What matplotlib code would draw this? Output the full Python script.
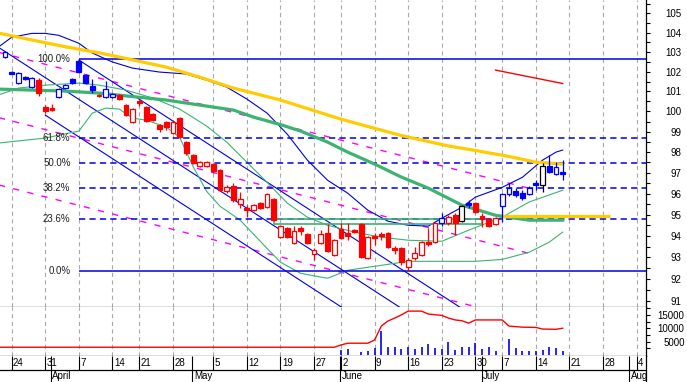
import numpy as np
import matplotlib.pyplot as plt
from matplotlib.patches import Rectangle
from matplotlib.ticker import FixedLocator, FuncFormatter, NullFormatter

plt.rcParams['font.family'] = ['Liberation Sans', 'DejaVu Sans']
plt.rcParams['lines.scale_dashes'] = False

# =============================
# DATA  (x = trading day index, 24 Mar 2014 = 0)
# =============================
idx = list(range(-1, 83))

opens = [102.74, 101.98, 101.42, 101.72, 101.22, 101.57, 100.22, 100.17, 100.72, 101.17,
         101.62, 102.54, 101.82, 101.27, 100.82, 100.72, 100.72, 100.82, 100.32, 99.47,
         100.52, 100.22, 99.87, 99.33, 99.47, 98.93, 99.67, 98.49, 97.86, 97.32,
         97.32, 97.42, 97.12, 96.11, 96.35, 95.50, 95.31, 95.21, 95.55, 95.35,
         95.74, 93.94, 94.36, 93.66, 94.36, 94.08, 93.15, 93.66, 94.13, 93.10,
         94.32, 94.13, 94.27, 94.55, 92.96, 93.99, 94.08, 94.13, 93.42, 93.42,
         92.55, 92.96, 93.10, 93.71, 93.71, 94.60, 94.60, 94.97, 94.69, 95.55,
         95.55, 94.93, 94.79, 94.55, 95.40, 95.97, 96.11, 96.02, 95.97, 96.50,
         96.40, 97.32, 96.93, 97.03]
highs = [103.05, 102.03, 101.98, 101.77, 101.72, 101.67, 100.32, 100.37, 101.17, 101.37,
         101.67, 102.63, 101.88, 101.62, 100.85, 101.52, 100.92, 100.87, 100.37, 100.17,
         100.57, 100.27, 99.92, 99.38, 99.52, 99.52, 99.72, 98.54, 97.91, 97.56,
         97.56, 97.47, 97.17, 96.40, 96.50, 96.06, 95.45, 95.50, 95.60, 96.02,
         95.78, 94.50, 94.41, 94.46, 94.46, 94.13, 93.42, 94.27, 94.55, 93.85,
         94.60, 94.60, 94.32, 94.60, 93.99, 94.13, 94.18, 94.18, 93.52, 93.47,
         92.96, 93.47, 93.75, 94.36, 94.65, 95.07, 94.97, 95.07, 95.45, 95.69,
         95.60, 95.07, 94.83, 94.88, 96.02, 96.50, 96.26, 96.16, 96.35, 96.64,
         97.47, 97.86, 97.51, 97.61]
lows = [102.69, 101.88, 101.37, 101.57, 101.17, 100.77, 99.92, 100.02, 100.67, 101.12,
        101.37, 101.93, 101.37, 100.92, 100.72, 100.67, 100.67, 100.57, 99.77, 99.42,
        100.27, 99.47, 99.52, 98.98, 99.08, 98.88, 98.69, 97.86, 97.42, 97.27,
        97.27, 96.98, 96.11, 96.02, 95.60, 95.31, 94.88, 95.16, 95.26, 95.31,
        94.69, 93.89, 93.89, 93.61, 94.03, 93.61, 92.87, 93.61, 93.24, 93.05,
        93.85, 93.80, 94.13, 92.96, 92.91, 93.56, 93.80, 93.42, 93.15, 92.64,
        92.36, 92.87, 93.05, 93.52, 93.66, 94.46, 94.50, 94.03, 94.65, 95.31,
        95.07, 94.41, 94.41, 94.50, 94.65, 95.88, 95.83, 95.69, 95.92, 96.16,
        96.06, 96.98, 96.88, 96.64]
closes = [103.00, 101.90, 101.93, 101.62, 101.67, 100.92, 100.02, 100.07, 101.12, 101.32,
          101.42, 101.98, 101.42, 101.07, 100.75, 101.12, 100.87, 100.62, 99.82, 100.12,
          100.42, 99.52, 99.57, 99.13, 99.23, 99.47, 98.74, 97.96, 97.47, 97.51,
          97.51, 97.07, 96.16, 96.30, 95.69, 95.74, 95.21, 95.45, 95.31, 95.97,
          94.74, 94.46, 93.94, 94.22, 94.22, 93.66, 93.33, 94.08, 93.28, 93.80,
          93.89, 93.99, 94.18, 93.01, 93.94, 93.89, 93.99, 93.47, 93.33, 92.78,
          92.87, 93.19, 93.71, 93.64, 94.60, 94.83, 94.88, 94.60, 95.40, 95.45,
          95.12, 94.79, 94.46, 94.83, 95.97, 96.26, 95.92, 95.78, 96.26, 96.40,
          97.32, 97.03, 97.27, 96.93]
candle_col = ("bbbbbrrrbbbbbbrbb"
              "rrrrrrrrrrrrrrrrrrrrrrrrrrrrrrrrrrrrrrrrrrrrrrrr"
              "brrkbrrrrbbbbbbkbbb")

# moving averages / bands, read at a few days
ma_long_x = [-2, 3, 8, 13, 18, 23, 28, 33, 40, 49, 58, 65, 69, 74, 78, 82]
ma_long = [103.98, 103.62, 103.27, 102.96, 102.60, 102.23, 101.72, 101.17, 100.57, 99.62,
           98.81, 98.30, 98.08, 97.79, 97.51, 97.42]
ma_mid_x = [-2, 8, 13, 23, 33, 36, 40, 43, 47, 50, 54, 58, 62, 67, 72, 77, 82]
ma_mid = [101.12, 101.02, 100.92, 100.57, 100.07, 99.72, 99.35, 99.03, 98.49, 98.00,
          97.42, 96.79, 96.26, 95.45, 94.97, 94.74, 94.74]
band_x = [-2, 0, 3, 5, 7, 10, 12, 15, 18, 22, 26, 29, 32, 35, 38, 41, 44, 47, 50, 53,
          56, 59, 62, 64, 67, 69, 73, 76, 79, 81, 82]
band = [103.25, 103.76, 103.96, 103.96, 103.86, 103.45, 102.95, 102.49, 102.18, 101.98,
        101.88, 101.57, 101.22, 100.62, 99.92, 98.88, 97.61, 96.64, 96.02, 95.21,
        94.69, 94.50, 94.46, 94.83, 95.35, 95.83, 96.30, 96.78, 97.61, 98.00, 98.10]
env_up_x = [-2, 1, 5, 10, 13, 17, 21, 25, 29, 32, 35, 38, 41, 44, 47, 51, 55, 59, 64, 68,
            73, 77, 82]
env_up = [100.82, 101.17, 101.32, 101.42, 101.32, 101.07, 100.67, 100.12, 99.28, 98.49,
          97.51, 96.54, 95.55, 94.88, 94.50, 94.18, 93.94, 93.80, 93.75, 94.27,
          94.88, 95.60, 96.16]
env_dn_x = [-2, 5, 10, 12, 14, 16, 18, 20, 23, 25, 27, 29, 31, 34, 38, 40, 43, 47, 50, 54,
            59, 64, 69, 73, 77, 80, 82]
env_dn = [98.44, 98.69, 99.03, 99.92, 100.17, 100.12, 99.67, 99.57, 99.23, 98.72,
          97.30, 96.11, 95.40, 94.74, 93.42, 92.78, 92.27, 92.04, 92.41, 92.59,
          92.82, 92.82, 92.82, 92.91, 93.24, 93.71, 94.18]

# drawn trend lines (start/end day, start/end price)
chan_lines = [((-2, 72), (103.25, 87.97)),
              ((5, 60), (99.82, 88.61)),
              ((10, 80), (102.59, 88.15))]
dash_lines = [((-2, 78), (102.99, 96.17)),
              ((-2, 78), (99.70, 93.11)),
              ((-2, 78), (96.42, 90.06))]
red_line = ((72, 82), (102.08, 101.40))
level_line = ((73, 89), 94.93)
zone = ((39, 70), (94.54, 94.78))
fib_days = (10, 59)          # swing high day, swing low day
fib_levels = [0.236, 0.382, 0.5, 0.618]

# volume
vol_idx = list(range(49, 83))
vol = [1870, 2240, 0, 1230, 1600, 2720, 8950, 3100, 3100, 2240, 3100, 2240, 3100, 3990,
       2720, 2240, 4960, 1870, 2870, 3100, 4360, 2240, 3100, 1600, 0, 5970, 2500, 1600,
       1600, 1600, 1870, 3100, 2720, 1600]
vavg_x = [-2, 48, 49, 50, 53, 54, 55, 56, 57, 58, 59, 61, 62, 64, 65, 66, 67, 68, 69, 73,
          74, 76, 78, 79, 81, 82]
vavg = [2900, 2900, 3740, 4400, 4400, 5600, 10800, 12700, 13800, 15000, 16400, 16400,
        15300, 14800, 13800, 13100, 12800, 11900, 13100, 13100, 10800, 10400, 10300,
        9700, 9600, 10000]

# date axis
week_idx = [0, 5, 10, 15, 19, 24, 30, 35, 40, 45, 49, 54, 59, 64, 69, 73, 78, 83, 88, 93]
week_lbl = ['24', '31', '7', '14', '21', '28', '5', '12', '19', '27', '2', '9', '16', '23',
            '30', '7', '14', '21', '28', '4']
month_idx = [5.8, 26.9, 48.9, 69.95, 91.9]
month_lbl = ['April', 'May', 'June', 'July', 'Aug']

# =============================
# FIGURE
# =============================
W, H = 687, 382
fig = plt.figure(figsize=(W / 100, H / 100), dpi=100)
xr = 645.7 / W
ax = fig.add_axes([0, 1 - 306.7 / H, xr, 306.7 / H])
axv = fig.add_axes([0, 1 - 356 / H, xr, (356 - 306.7) / H], sharex=ax)
axd = fig.add_axes([0, 0, xr, 26 / H], sharex=ax)

XMIN, XMAX = -1.74, 94.35
ax.set_xlim(XMIN, XMAX)

BLUE = '#0000ff'
RED = '#ff0000'
GREEN = '#3cb371'
GOLD = '#ffcc00'
MAG = '#ff00ff'
GRID = '#a8a8a8'
cmap = {'b': BLUE, 'r': RED, 'k': 'black'}

# ---- main price panel
ax.set_yscale('log')
ax.set_ylim(90.75, 105.70)

for a in (ax, axv):
    for i in week_idx:
        a.axvline(i, color=GRID, lw=0.8, ls=(0, (3, 2.5)), zorder=0)

for (x0, x1), (p0, p1) in dash_lines:
    ax.plot([x0, x1], [p0, p1], color=MAG, lw=1.0, ls=(0, (4.5, 6)), zorder=1)
for (x0, x1), (p0, p1) in chan_lines:
    ax.plot([x0, x1], [p0, p1], color='#0000e0', lw=0.8, zorder=1)

ax.plot(env_up_x, env_up, color=GREEN, lw=0.8, zorder=2)
ax.plot(env_dn_x, env_dn, color=GREEN, lw=0.8, zorder=2)
ax.plot(band_x, band, color='#0000e0', lw=0.8, zorder=2)
ax.plot(ma_long_x, ma_long, color=GOLD, lw=2.3, zorder=3)
ax.plot(ma_mid_x, ma_mid, color=GREEN, lw=2.3, zorder=3)

ax.plot(red_line[0], red_line[1], color=RED, lw=1.0, zorder=3)
ax.hlines(level_line[1], level_line[0][0], level_line[0][1], color=GOLD, lw=2.3, zorder=3)
ax.add_patch(Rectangle((zone[0][0], zone[1][0]), zone[0][1] - zone[0][0],
                       zone[1][1] - zone[1][0], facecolor='none', edgecolor=GREEN,
                       lw=1.2, zorder=3))

# fibonacci retracement from the swing high to the swing low
x_hi = fib_days[0]
hi = highs[idx.index(fib_days[0])]
lo = lows[idx.index(fib_days[1])]
ax.hlines([hi, lo], x_hi, XMAX, color='#0000e0', lw=1.1, zorder=2)
for f in fib_levels:
    ax.hlines(lo + f * (hi - lo), x_hi, XMAX, color='#0000e0', lw=1.1,
              ls=(0, (4.5, 3)), zorder=2)
for f in [1.0] + fib_levels[::-1] + [0.0]:
    ax.annotate(f"{f * 100:.1f}%", (x_hi, lo + f * (hi - lo)), xytext=(-6, 0),
                textcoords='offset points', ha='right', va='center',
                fontsize=7, color='#202020', zorder=4)

# candles
for k, i in enumerate(idx):
    o, h, l, c = opens[k], highs[k], lows[k], closes[k]
    col = cmap[candle_col[k]]
    ax.vlines(i, l, h, color=col, lw=0.9, zorder=5)
    b0, b1 = min(o, c), max(o, c)
    face = col if c < o else 'white'
    ax.add_patch(Rectangle((i - 0.36, b0), 0.72, b1 - b0, facecolor=face,
                           edgecolor=col, lw=0.9, zorder=6))

ax.yaxis.tick_right()
ax.yaxis.set_major_locator(FixedLocator(list(range(91, 106))))
ax.yaxis.set_minor_locator(FixedLocator([v + 0.5 for v in range(90, 106)]))
ax.yaxis.set_major_formatter(FuncFormatter(lambda v, p: f"{v:.0f}"))
ax.yaxis.set_minor_formatter(NullFormatter())
ax.tick_params(axis='y', which='both', direction='out', length=3, width=0.8,
               pad=23, labelsize=7, colors='black')
for t in ax.get_yticklabels():
    t.set_horizontalalignment('right')
ax.tick_params(axis='x', which='both', bottom=False, labelbottom=False)
for s in ('left', 'top'):
    ax.spines[s].set_visible(False)
ax.spines['right'].set_linewidth(0.9)
ax.spines['bottom'].set_linewidth(0.9)

# ---- volume panel
axv.vlines(vol_idx, 0, vol, color=BLUE, lw=1.2)
axv.plot(vavg_x, vavg, color=RED, lw=1.0)
axv.set_ylim(-380, 18050)
axv.yaxis.tick_right()
axv.yaxis.set_major_locator(FixedLocator([5000, 10000, 15000]))
axv.yaxis.set_minor_locator(FixedLocator([2500, 7500, 12500, 17500]))
axv.tick_params(axis='y', which='both', direction='out', length=3, width=0.8,
                pad=25, labelsize=7, colors='black')
for t in axv.get_yticklabels():
    t.set_horizontalalignment('right')
axv.tick_params(axis='x', which='both', bottom=False, labelbottom=False)
for s in ('left', 'top'):
    axv.spines[s].set_visible(False)
axv.spines['right'].set_linewidth(0.9)
axv.spines['bottom'].set_linewidth(0.9)

# ---- date rows
axd.set_ylim(0, 1)
mid = 12 / 26
axd.axhline(mid, color='black', lw=0.9)
axd.vlines(week_idx, mid, 1, color='black', lw=0.8)
axd.vlines(month_idx, 0, 1, color='black', lw=0.8)
for i, s in zip(week_idx, week_lbl):
    axd.text(i + 0.2, 0.73, s, ha='left', va='center', fontsize=7, clip_on=True)
for i, s in zip(month_idx, month_lbl):
    axd.text(i + 0.2, 0.22, s, ha='left', va='center', fontsize=7, clip_on=True)
axd.set_xticks([])
axd.set_yticks([])
for s in ('left', 'top', 'bottom'):
    axd.spines[s].set_visible(False)
axd.spines['right'].set_linewidth(0.9)

fig.savefig('out.png', dpi=100)
